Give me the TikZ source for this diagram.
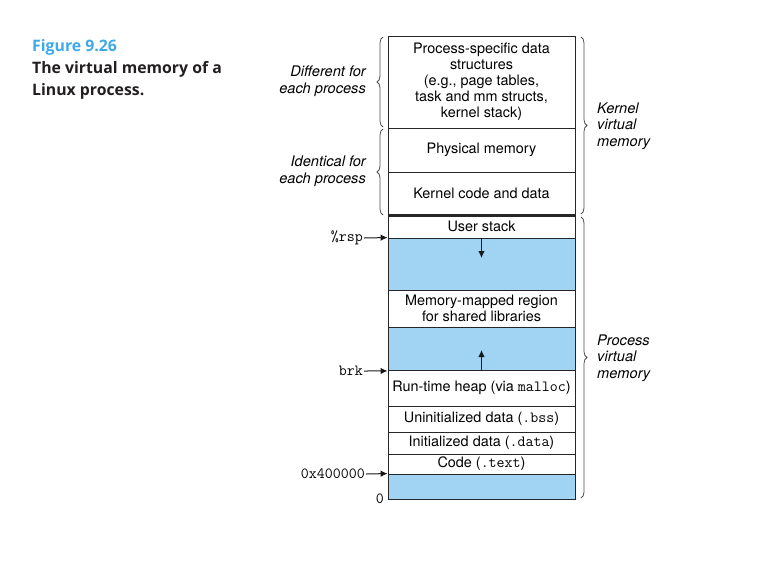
\documentclass[tikz,border=0pt]{standalone}
\usepackage{fontspec}
\setmainfont{TeX Gyre Heros}
\newfontfamily\capfont{Open Sans}
\usetikzlibrary{arrows.meta,decorations.pathreplacing}
\definecolor{memblue}{RGB}{160,212,242}
\definecolor{figblue}{RGB}{62,169,230}
\definecolor{capblack}{RGB}{35,31,32}
\definecolor{bracegray}{RGB}{80,80,80}
\newcommand{\mtt}[1]{{\fontsize{15.5}{16}\selectfont\ttfamily #1}}
\tikzset{
  cell/.style={draw=black!85, line width=0.9pt, minimum width=187pt, inner sep=0pt, align=center,
    font=\fontsize{14.4}{16}\selectfont},
  bluecell/.style={cell, fill=memblue},
  arr/.style={-{Latex[length=7pt,width=6.5pt]}, line width=1pt, draw=black!90},
  ttlab/.style={font=\fontsize{15.5}{16}\selectfont\ttfamily, inner sep=1pt},
  sidelab/.style={font=\fontsize{14.6}{16.5}\selectfont\itshape, inner sep=0pt},
  bracel/.style={decorate, decoration={brace, amplitude=6pt}, draw=bracegray, line width=0.8pt},
}
\begin{document}
\begin{tikzpicture}[x=1pt,y=-1pt]
\useasboundingbox (0,0) rectangle (781,560);
% caption
\node[anchor=north west, align=left, inner sep=0pt, font=\capfont\bfseries\fontsize{15.8}{22}\selectfont, text=capblack] (cap) at (32,39)
  {\textcolor{figblue}{Figure 9.26}\\The virtual memory of a\\Linux process.};
% cells
\node[cell, minimum height=92pt] (ps) at (481.5,82) {Process-specific data\\structures\\(e.g., page tables,\\task and mm structs,\\kernel stack)};
\node[cell, minimum height=44pt] (pm) at (481.5,150) {Physical memory};
\node[cell, minimum height=43pt] (kc) at (481.5,193.5) {Kernel code and data};
\node[cell, minimum height=23pt] (us) at (481.5,226.5) {User stack};
\node[bluecell, minimum height=52pt] (b1) at (481.5,264) {};
\node[cell, minimum height=37pt] (mm) at (481.5,308.5) {Memory-mapped region\\for shared libraries};
\node[bluecell, minimum height=43.5pt] (b2) at (481.5,348.75) {};
\node[cell, minimum height=35.5pt] (heap) at (481.5,388.25) {Run-time heap (via \mtt{malloc})};
\node[cell, minimum height=26pt] (bss) at (481.5,419) {Uninitialized data (\mtt{.bss})};
\node[cell, minimum height=22pt] (data) at (481.5,443) {Initialized data (\mtt{.data})};
\node[cell, minimum height=20pt] (text) at (481.5,464) {Code (\mtt{.text})};
\node[bluecell, minimum height=25pt] (b3) at (481.5,486.5) {};
% thick separator
\draw[line width=3pt, black!85] (kc.south west) -- (kc.south east);
% inner arrows
\coordinate (downend) at (481.5,258);
\coordinate (upend) at (481.5,350);
\draw[arr] (b1.north) -- (downend);
\draw[arr] (b2.south) -- (upend);
% left pointers
\node[ttlab, anchor=east] (rsp) at (364,238) {\%rsp};
\node[ttlab, anchor=east] (brk) at (364,371) {brk};
\node[ttlab, anchor=east] (start) at (366,474) {0x400000};
\node[ttlab, anchor=east] (zero) at (385,499) {0};
\draw[arr] (rsp.east) -- (b1.north west);
\draw[arr] (brk.east) -- (b2.south west);
\draw[arr] (start.east) -- (b3.north west);
% left braces
\coordinate (lb1a) at (383,127);
\coordinate (lb1b) at (383,37);
\coordinate (lb2a) at (383,215);
\coordinate (lb2b) at (383,129);
\draw[bracel] (lb1a) -- (lb1b);
\draw[bracel] (lb2a) -- (lb2b);
\node[sidelab, anchor=east, align=right] (diff) at (366,81) {Different for\\each process};
\node[sidelab, anchor=east, align=right] (ident) at (366,171) {Identical for\\each process};
% right braces
\coordinate (rb1a) at (581,37);
\coordinate (rb1b) at (581,214);
\coordinate (rb2a) at (581,217);
\coordinate (rb2b) at (581,498);
\draw[bracel] (rb1a) -- (rb1b);
\draw[bracel] (rb2a) -- (rb2b);
\node[sidelab, anchor=west, align=left] (kvm) at (597,126) {Kernel\\virtual\\memory};
\node[sidelab, anchor=west, align=left] (pvm) at (597,358) {Process\\virtual\\memory};
\end{tikzpicture}
\end{document}
